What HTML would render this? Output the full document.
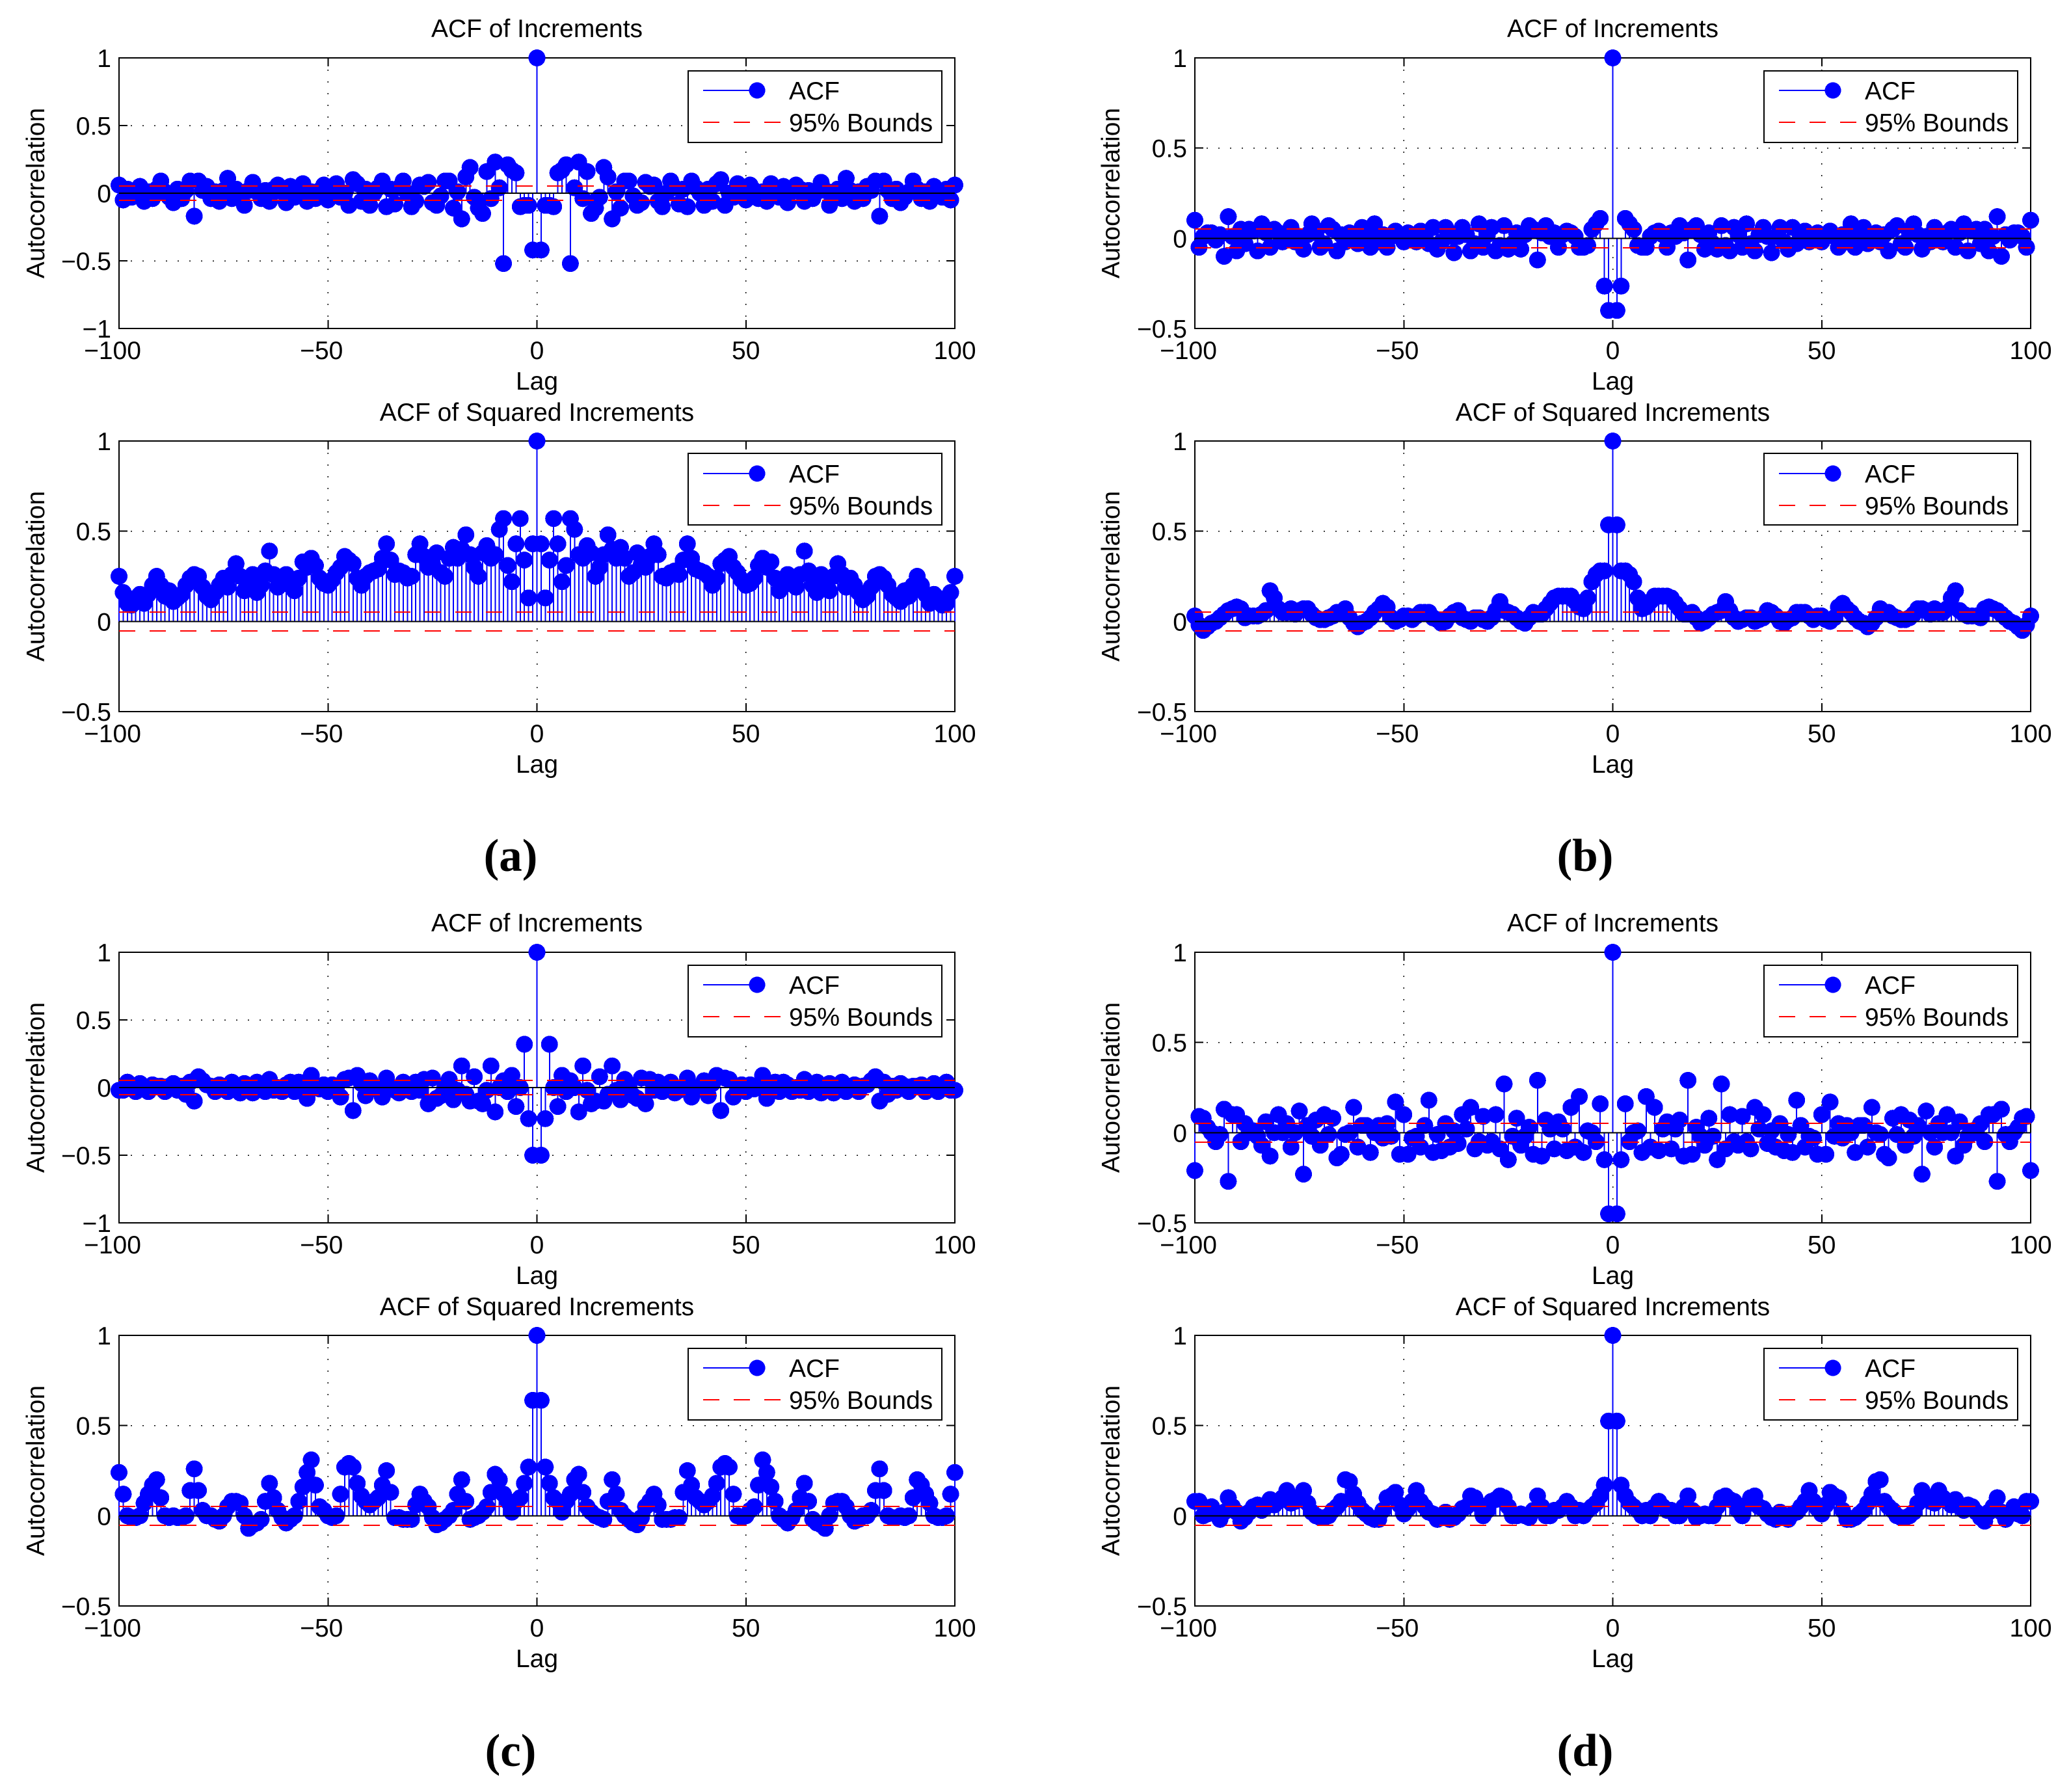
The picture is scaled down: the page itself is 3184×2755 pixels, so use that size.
<!DOCTYPE html>
<html lang="en">
<head>
<meta charset="utf-8">
<title>ACF of Increments and Squared Increments</title>
<style>
html,body{margin:0;padding:0;background:#fff;}
svg{display:block;}
text{font-family:"Liberation Sans",sans-serif;font-size:39px;fill:#000;}
.caption{font-family:"Liberation Serif",serif;font-weight:bold;font-size:71px;text-anchor:middle;}
.c{text-anchor:middle;}
.crisp{shape-rendering:crispEdges;}
</style>
</head>
<body>
<svg xmlns="http://www.w3.org/2000/svg" width="3184" height="2755" viewBox="0 0 3184 2755">
<rect width="3184" height="2755" fill="#fff"/>

<g id="panel-a1" transform="translate(183,89)">
<text class="c" x="642.5" y="-32">ACF of Increments</text>
<text class="c" transform="translate(-115,208) rotate(-90)">Autocorrelation</text>
<text class="c" x="642.5" y="510">Lag</text>
<g class="plot"></g>
<g class="crisp"><rect x="875" y="20" width="390" height="110" fill="#fff" stroke="#000" stroke-width="2"/><line x1="898" y1="50" x2="981" y2="50" stroke="#0000ff" stroke-width="2"/><circle cx="981" cy="50" r="12.5" fill="#0000ff"/><line x1="898" y1="99" x2="1018" y2="99" stroke="#ff0000" stroke-width="2" stroke-dasharray="25 22"/><text x="1030" y="64">ACF</text><text x="1030" y="113">95% Bounds</text></g>
</g>

<g id="panel-a2" transform="translate(183,678)">
<text class="c" x="642.5" y="-31">ACF of Squared Increments</text>
<text class="c" transform="translate(-115,208) rotate(-90)">Autocorrelation</text>
<text class="c" x="642.5" y="510">Lag</text>
<g class="plot"></g>
<g class="crisp"><rect x="875" y="19" width="390" height="110" fill="#fff" stroke="#000" stroke-width="2"/><line x1="898" y1="50" x2="981" y2="50" stroke="#0000ff" stroke-width="2"/><circle cx="981" cy="50" r="12.5" fill="#0000ff"/><line x1="898" y1="99" x2="1018" y2="99" stroke="#ff0000" stroke-width="2" stroke-dasharray="25 22"/><text x="1030" y="64">ACF</text><text x="1030" y="113">95% Bounds</text></g>
</g>

<g id="panel-b1" transform="translate(1837,89)">
<text class="c" x="642.5" y="-32">ACF of Increments</text>
<text class="c" transform="translate(-116,208) rotate(-90)">Autocorrelation</text>
<text class="c" x="642.5" y="510">Lag</text>
<g class="plot"></g>
<g class="crisp"><rect x="875" y="20" width="390" height="110" fill="#fff" stroke="#000" stroke-width="2"/><line x1="898" y1="50" x2="981" y2="50" stroke="#0000ff" stroke-width="2"/><circle cx="981" cy="50" r="12.5" fill="#0000ff"/><line x1="898" y1="99" x2="1018" y2="99" stroke="#ff0000" stroke-width="2" stroke-dasharray="25 22"/><text x="1030" y="64">ACF</text><text x="1030" y="113">95% Bounds</text></g>
</g>

<g id="panel-b2" transform="translate(1837,678)">
<text class="c" x="642.5" y="-31">ACF of Squared Increments</text>
<text class="c" transform="translate(-116,208) rotate(-90)">Autocorrelation</text>
<text class="c" x="642.5" y="510">Lag</text>
<g class="plot"></g>
<g class="crisp"><rect x="875" y="19" width="390" height="110" fill="#fff" stroke="#000" stroke-width="2"/><line x1="898" y1="50" x2="981" y2="50" stroke="#0000ff" stroke-width="2"/><circle cx="981" cy="50" r="12.5" fill="#0000ff"/><line x1="898" y1="99" x2="1018" y2="99" stroke="#ff0000" stroke-width="2" stroke-dasharray="25 22"/><text x="1030" y="64">ACF</text><text x="1030" y="113">95% Bounds</text></g>
</g>

<g id="panel-c1" transform="translate(183,1464)">
<text class="c" x="642.5" y="-32">ACF of Increments</text>
<text class="c" transform="translate(-115,208) rotate(-90)">Autocorrelation</text>
<text class="c" x="642.5" y="510">Lag</text>
<g class="plot"></g>
<g class="crisp"><rect x="875" y="20" width="390" height="110" fill="#fff" stroke="#000" stroke-width="2"/><line x1="898" y1="50" x2="981" y2="50" stroke="#0000ff" stroke-width="2"/><circle cx="981" cy="50" r="12.5" fill="#0000ff"/><line x1="898" y1="99" x2="1018" y2="99" stroke="#ff0000" stroke-width="2" stroke-dasharray="25 22"/><text x="1030" y="64">ACF</text><text x="1030" y="113">95% Bounds</text></g>
</g>

<g id="panel-c2" transform="translate(183,2053)">
<text class="c" x="642.5" y="-31">ACF of Squared Increments</text>
<text class="c" transform="translate(-115,208) rotate(-90)">Autocorrelation</text>
<text class="c" x="642.5" y="510">Lag</text>
<g class="plot"></g>
<g class="crisp"><rect x="875" y="20" width="390" height="110" fill="#fff" stroke="#000" stroke-width="2"/><line x1="898" y1="50" x2="981" y2="50" stroke="#0000ff" stroke-width="2"/><circle cx="981" cy="50" r="12.5" fill="#0000ff"/><line x1="898" y1="99" x2="1018" y2="99" stroke="#ff0000" stroke-width="2" stroke-dasharray="25 22"/><text x="1030" y="64">ACF</text><text x="1030" y="113">95% Bounds</text></g>
</g>

<g id="panel-d1" transform="translate(1837,1464)">
<text class="c" x="642.5" y="-32">ACF of Increments</text>
<text class="c" transform="translate(-116,208) rotate(-90)">Autocorrelation</text>
<text class="c" x="642.5" y="510">Lag</text>
<g class="plot"></g>
<g class="crisp"><rect x="875" y="20" width="390" height="110" fill="#fff" stroke="#000" stroke-width="2"/><line x1="898" y1="50" x2="981" y2="50" stroke="#0000ff" stroke-width="2"/><circle cx="981" cy="50" r="12.5" fill="#0000ff"/><line x1="898" y1="99" x2="1018" y2="99" stroke="#ff0000" stroke-width="2" stroke-dasharray="25 22"/><text x="1030" y="64">ACF</text><text x="1030" y="113">95% Bounds</text></g>
</g>

<g id="panel-d2" transform="translate(1837,2053)">
<text class="c" x="642.5" y="-31">ACF of Squared Increments</text>
<text class="c" transform="translate(-116,208) rotate(-90)">Autocorrelation</text>
<text class="c" x="642.5" y="510">Lag</text>
<g class="plot"></g>
<g class="crisp"><rect x="875" y="20" width="390" height="110" fill="#fff" stroke="#000" stroke-width="2"/><line x1="898" y1="50" x2="981" y2="50" stroke="#0000ff" stroke-width="2"/><circle cx="981" cy="50" r="12.5" fill="#0000ff"/><line x1="898" y1="99" x2="1018" y2="99" stroke="#ff0000" stroke-width="2" stroke-dasharray="25 22"/><text x="1030" y="64">ACF</text><text x="1030" y="113">95% Bounds</text></g>
</g>

<text class="caption" x="785" y="1339">(a)</text>
<text class="caption" x="2437" y="1339">(b)</text>
<text class="caption" x="785" y="2715">(c)</text>
<text class="caption" x="2437" y="2715">(d)</text>
</svg>

<script>
// Autocorrelation at lag 0 (every panel).
const acfAtZero = 1;
// Lags 1..100; the ACF is symmetric, so negative lags reuse these values.
const acfA1 = [-.42,-.09,-.09,-.1,.15,.17,.21,-.52,.04,.23,
-.04,.16,-.15,-.11,-.03,.19,.12,-.19,.01,-.11,
.09,.09,-.02,-.09,-.07,.08,.05,.06,-.06,-.1,
0,.09,.04,-.08,.03,-.1,.09,.04,0,-.09,
.03,-.06,.07,.1,-.09,0,-.03,.07,.01,-.05,
.06,.02,-.04,.01,-.06,.07,.01,-.03,.05,-.07,
.01,.06,.03,-.06,.02,-.04,.01,.08,.02,-.09,
-.01,.03,-.04,.11,.02,-.06,.01,-.04,.05,.02,
.09,-.17,.09,.02,-.04,.03,-.07,-.03,.01,.09,
.03,-.04,.01,-.06,.05,.02,-.03,.03,-.05,.06];
const acfA2 = [.43,.13,.34,.57,.43,.22,.31,.57,.51,.37,
.35,.42,.38,.25,.3,.37,.48,.4,.35,.41,
.35,.25,.27,.38,.32,.3,.36,.43,.37,.25,
.24,.27,.28,.26,.34,.43,.35,.29,.28,.27,
.25,.2,.24,.32,.34,.36,.3,.27,.23,.2,
.21,.24,.31,.35,.3,.33,.24,.17,.2,.26,
.24,.19,.26,.39,.28,.2,.16,.26,.2,.17,
.25,.32,.26,.19,.24,.2,.16,.12,.14,.19,
.25,.26,.24,.2,.15,.13,.11,.17,.14,.2,
.25,.2,.15,.1,.15,.13,.09,.1,.16,.25];
const acfB1 = [-.4,-.265,.11,.08,.05,-.04,-.05,-.05,.01,.03,
.04,.02,-.05,.03,.01,.07,.03,-.12,.05,.07,
.02,-.06,.03,-.03,-.06,.07,-.04,-.07,.06,.02,
-.05,.08,-.03,-.07,.02,.06,.01,-.08,.01,.06,
-.02,-.06,.06,-.03,.02,.04,-.02,.01,.03,-.02,
.02,.04,.01,-.05,.02,-.02,.08,-.05,.02,.06,
-.03,.01,.03,-.02,.02,-.07,.05,.07,-.03,-.05,
.03,.08,.02,-.06,.01,-.02,.06,.02,-.02,.03,
.05,-.05,.03,.08,-.07,.04,.05,-.03,.05,-.07,
.01,.12,-.1,.02,-.01,.03,.03,.01,-.05,.1];
const acfB2 = [.535,.28,.28,.26,.22,.13,.07,.08,.11,.14,
.14,.14,.14,.13,.1,.07,.04,.04,.05,.02,
-.01,0,.02,.04,.05,.06,.11,.06,.02,0,
.01,.02,.02,0,.01,.02,.06,.05,.03,0,
-.01,.01,.02,.05,.05,.05,.03,.01,.03,.03,
.01,0,.02,.08,.1,.07,.05,.02,0,-.01,
-.03,-.01,.02,.07,.05,.05,.03,.02,.01,.01,
.02,.04,.07,.07,.06,.04,.07,.05,.05,.07,
.13,.17,.06,.04,.03,.03,.03,.02,.07,.08,
.07,.06,.04,.02,0,-.01,-.03,-.05,-.02,.03];
const acfC1 = [-.5,-.23,.32,0,-.14,.09,-.03,.05,0,-.18,
.16,-.02,-.12,-.1,.08,-.1,-.05,.16,-.02,-.09,
.06,.01,-.06,-.08,.07,-.12,.06,-.02,.04,-.03,
0,.04,-.04,-.02,0,.07,-.07,0,0,.05,
-.06,.03,.09,-.17,.07,.06,-.07,0,.02,-.03,
.02,-.01,0,.09,-.08,.02,.04,-.03,.04,.02,
-.03,0,-.02,.06,-.03,0,.04,-.04,.01,.03,
-.04,.01,.04,-.03,.01,.02,-.03,.01,.02,.05,
.08,-.1,.04,-.05,.01,-.02,.03,.01,-.03,.01,
.01,.02,-.03,0,.03,-.03,.01,.04,-.02,-.02];
const acfC2 = [.64,.27,.18,.1,.08,.02,.08,.12,.2,.23,
.13,.05,.02,0,-.01,-.02,.08,.2,.12,.03,
0,-.02,-.04,-.05,-.01,.05,.08,.12,.06,-.02,
-.02,-.02,-.01,-.01,.13,.25,.17,.1,.08,.06,
.08,.11,.18,.27,.29,.27,.12,0,-.01,0,
.03,.05,.17,.31,.24,.16,.08,0,-.02,-.04,
-.01,.03,.1,.18,.08,-.02,-.04,-.05,-.07,0,
.07,.08,.08,.05,0,-.03,-.02,0,0,.03,
.14,.26,.14,0,-.01,-.01,0,-.01,0,.1,
.2,.17,.12,.07,0,-.01,-.01,0,.12,.24];
const acfD1 = [-.45,-.15,.16,-.05,0,.01,-.11,.2,-.08,.14,
-.1,.02,.06,-.09,.02,.07,-.13,.29,-.12,.03,
-.02,-.07,.08,-.02,-.15,.27,-.09,.1,-.05,-.07,
.09,-.05,-.09,.14,.02,.1,-.06,.01,-.08,.05,
-.1,-.01,-.11,.18,.04,-.08,-.02,-.03,-.12,.1,
-.12,.17,-.02,.05,-.03,.04,0,-.11,.04,.04,
-.08,.14,0,-.01,-.12,-.14,.08,-.01,.1,-.07,
.07,-.02,.04,-.23,.12,0,-.08,.05,0,.1,
0,-.13,.06,-.07,-.02,.01,0,.05,-.05,.1,
.1,-.27,.13,-.01,-.05,0,.03,.08,.09,-.21];
const acfD2 = [.525,.17,.11,.07,.05,.03,0,.03,0,.05,
.08,.05,.03,.03,0,0,.05,.11,.03,-.01,
0,.01,0,0,.05,.1,.11,.09,.08,.03,
0,.06,.1,.11,.05,.04,.01,-.01,-.02,.02,
-.01,-.02,.01,.02,.05,.08,.14,.08,.04,.01,
.06,.13,.11,.1,.03,-.02,-.02,-.01,.01,.03,
.07,.12,.19,.2,.08,.05,.03,0,-.01,-.01,
0,.02,.07,.14,.1,.08,.07,.14,.1,.08,
.06,.09,.05,.03,.06,.05,.02,-.01,-.03,.02,
.05,.1,.02,-.02,.01,.05,.01,0,.08,.08];

// 95% confidence bounds.
const boundValues = [.052, -.052];
// Axis ticks and their printed labels.
const xTicks = [-100, -50, 0, 50, 100];
const yTicksFull = [-1, -.5, 0, .5, 1];
const yTicksHalf = [-.5, 0, .5, 1];
const xGridTicks = [-50, 0, 50];

const NS = 'http://www.w3.org/2000/svg';
const PLOT_W = 1285;
const PLOT_H = 416;

function make(parent, tag, attrs) {
  const el = document.createElementNS(NS, tag);
  for (const k in attrs) el.setAttribute(k, attrs[k]);
  parent.appendChild(el);
  return el;
}
function fmt(v) {
  return (v < 0 ? '\u2212' : '') + String(Math.abs(v));
}

function drawPanel(id, values, yTicks) {
  const root = document.querySelector('#' + id + ' .plot');
  const yMin = yTicks[0];
  const yMax = yTicks[yTicks.length - 1];
  const xs = function (lag) { return (lag + 100) / 200 * PLOT_W; };
  const ys = function (v) { return (yMax - v) / (yMax - yMin) * PLOT_H; };

  // grid
  const gridGroup = make(root, 'g', {stroke: '#000', 'stroke-width': 1.5, 'stroke-dasharray': '2 16', class: 'crisp'});
  
  
  xGridTicks.forEach(function (t) {
    const g = make(gridGroup, 'line', {x1: xs(t), x2: xs(t), y1: 0, y2: PLOT_H});
    
    
  });
  yTicks.slice(1, -1).forEach(function (t) {
    const g = make(gridGroup, 'line', {x1: 0, x2: PLOT_W, y1: ys(t), y2: ys(t)});
    
    
  });

  // axes box
  const box = make(root, 'rect', {x: 0, y: 0, width: PLOT_W, height: PLOT_H, fill: 'none', stroke: '#000', 'stroke-width': 2, class: 'crisp'});
  
  

  // ticks and labels
  xTicks.forEach(function (t) {
    [[0, 13], [PLOT_H - 13, PLOT_H]].forEach(function (r) {
      const tk = make(root, 'line', {x1: xs(t), x2: xs(t), y1: r[0], y2: r[1], stroke: '#000', 'stroke-width': 2, class: 'crisp'});
      
      
    });
    const lab = make(root, 'text', {x: xs(t) - (t < 0 ? 10 : 0), y: PLOT_H + 47, class: 'c'});
    lab.textContent = fmt(t);
    
    
  });
  yTicks.forEach(function (t) {
    [[0, 13], [PLOT_W - 13, PLOT_W]].forEach(function (r) {
      const tk = make(root, 'line', {x1: r[0], x2: r[1], y1: ys(t), y2: ys(t), stroke: '#000', 'stroke-width': 2, class: 'crisp'});
      
      
    });
    const lab = make(root, 'text', {x: -12, y: ys(t) + 14, 'text-anchor': 'end'});
    lab.textContent = fmt(t);
    
    
  });

  // stems and markers, for lags -100..100
  const series = make(root, 'g', {class: 'crisp'});
  
  
  function drawPoint(lag, v) {
    const s = make(series, 'line', {x1: xs(lag), x2: xs(lag), y1: ys(0), y2: ys(v), stroke: '#0000ff', 'stroke-width': 2});
    
    
    const c = make(series, 'circle', {cx: xs(lag), cy: ys(v), r: 13, fill: '#0000ff'});
    
    
  }
  drawPoint(0, acfAtZero);
  values.forEach(function (v, i) {
    drawPoint(-(i + 1), v);
    drawPoint(i + 1, v);
  });

  // zero line
  const zero = make(root, 'line', {x1: 0, x2: PLOT_W, y1: ys(0), y2: ys(0), stroke: '#000', 'stroke-width': 2, class: 'crisp'});
  
  

  // confidence bounds
  boundValues.forEach(function (b) {
    const l = make(root, 'line', {x1: 0, x2: PLOT_W, y1: ys(b), y2: ys(b), stroke: '#ff0000', 'stroke-width': 2, 'stroke-dasharray': '25 22', class: 'crisp'});
    
    
  });
}

drawPanel('panel-a1', acfA1, yTicksFull);
drawPanel('panel-a2', acfA2, yTicksHalf);
drawPanel('panel-b1', acfB1, yTicksHalf);
drawPanel('panel-b2', acfB2, yTicksHalf);
drawPanel('panel-c1', acfC1, yTicksFull);
drawPanel('panel-c2', acfC2, yTicksHalf);
drawPanel('panel-d1', acfD1, yTicksHalf);
drawPanel('panel-d2', acfD2, yTicksHalf);
</script>
</body>
</html>
